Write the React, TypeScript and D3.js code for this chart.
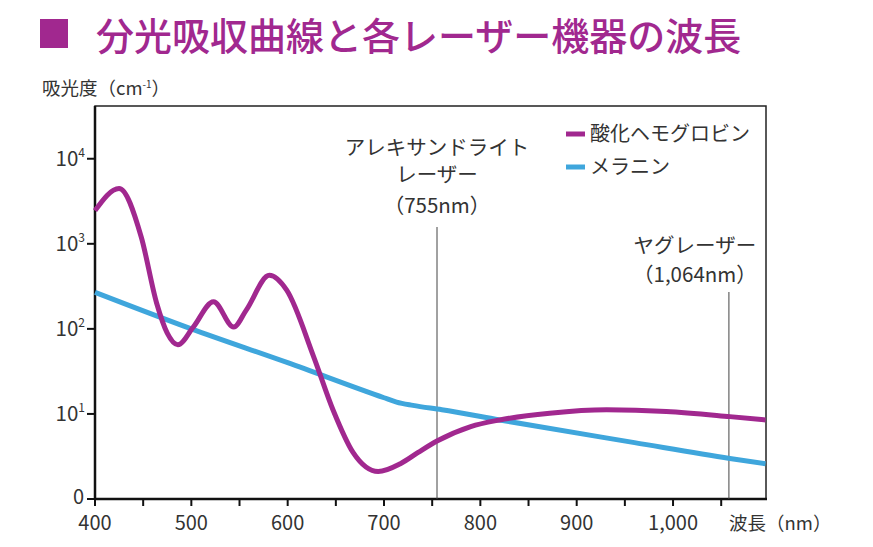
import React from "react";
import * as d3 from "d3";

const hbWavelengths = [400, 425, 448, 464, 475, 486, 502, 523, 544, 557, 581, 599, 627, 647, 668, 694, 717, 735, 755, 790, 820, 872, 931, 993, 1059, 1096];
const hbValues = [2455, 4467, 1202, 200, 89, 65, 105, 209, 105, 166, 427, 285, 47, 11.2, 3.5, 2.1, 2.6, 3.5, 4.8, 7.1, 8.5, 10.2, 11.2, 10.7, 9.3, 8.5];

const melWavelengths = [400, 500, 600, 700, 713, 730, 760, 820, 960, 1059, 1096];
const melValues = [269, 100, 40, 15.5, 13.8, 12.6, 11.2, 8.5, 4.6, 3.0, 2.6];

const xTicks = [400, 450, 500, 550, 600, 650, 700, 750, 800, 850, 900, 950, 1000, 1050];
const xTickLabels = [
  { v: 400, t: "400" },
  { v: 500, t: "500" },
  { v: 600, t: "600" },
  { v: 700, t: "700" },
  { v: 800, t: "800" },
  { v: 900, t: "900" },
  { v: 1000, t: "1,000" },
];
const yTicks = [1, 10, 100, 1000, 10000];
const yTickExp = ["0", "1", "2", "3", "4"];

const lasers = [
  { wl: 755, lines: ["アレキサンドライト", "レーザー", "（755nm）"], lineTop: 227, textY: [155, 182, 213] },
  { wl: 1058, lines: ["ヤグレーザー", "（1,064nm）"], lineTop: 292, textY: [253, 282] },
];

const legendItems = [
  { name: "酸化ヘモグロビン", color: "#a1288f" },
  { name: "メラニン", color: "#3fa6dc" },
];

const PURPLE = "#a1288f";
const BLUE = "#3fa6dc";
const TEXT = "#333";
const FONT = "'Noto Sans CJK JP', 'Noto Sans', sans-serif";

export default function App() {
  const left = 95, right = 766, top = 106, bottom = 499;
  const x = d3.scaleLinear().domain([400, 1096.5]).range([left, right]);
  const y = d3.scaleLog().domain([1, Math.pow(10, 4.62)]).range([bottom, top]);

  const line = d3
    .line<[number, number]>()
    .x((d) => x(d[0]))
    .y((d) => y(d[1]))
    .curve(d3.curveMonotoneX);

  const hb = hbWavelengths.map((w, i) => [w, hbValues[i]] as [number, number]);
  const mel = melWavelengths.map((w, i) => [w, melValues[i]] as [number, number]);

  const annoOffset = (l: typeof lasers[number]) => (l.wl === 755 ? 0 : -34);

  return (
    <svg width={873} height={547} style={{ position: "absolute", left: 0, top: 0, background: "#fff" }} fontFamily={FONT}>
      <rect x={0} y={0} width={873} height={547} fill="#fff" />
      {/* Title */}
      <rect x={40} y={19} width={28} height={29} fill={PURPLE} />
      <text x={96} y={50} fontSize={38} fill={PURPLE} fontWeight={500}>
        分光吸収曲線と各レーザー機器の波長
      </text>
      {/* y axis title */}
      <text x={42} y={95} fontSize={18.5} fill={TEXT}>
        吸光度（cm<tspan dy={-7} fontSize={10}>-1</tspan><tspan dy={7}>）</tspan>
      </text>

      {/* frame */}
      <rect x={left} y={top} width={right - left} height={bottom - top} fill="none" stroke="#222" strokeWidth={1.5} />
      <line x1={left} x2={left} y1={top} y2={bottom + 1} stroke="#111" strokeWidth={2.5} />
      <line x1={left - 1} x2={right + 1} y1={bottom} y2={bottom} stroke="#111" strokeWidth={2.5} />

      {/* laser lines */}
      {lasers.map((l, i) => (
        <g key={i}>
          <line x1={x(l.wl)} x2={x(l.wl)} y1={l.lineTop} y2={bottom} stroke="#444" strokeWidth={1} />
          {l.lines.map((t, j) => (
            <text key={j} x={x(l.wl) + annoOffset(l)} y={l.textY[j]} fontSize={20.5} textAnchor="middle" fill={TEXT}>
              {t}
            </text>
          ))}
        </g>
      ))}

      {/* curves */}
      <path d={line(mel) || ""} fill="none" stroke={BLUE} strokeWidth={5} strokeLinejoin="round" />
      <path d={line(hb) || ""} fill="none" stroke={PURPLE} strokeWidth={5} strokeLinejoin="round" />

      {/* x ticks */}
      {xTicks.map((v) => (
        <line key={v} x1={x(v)} x2={x(v)} y1={bottom} y2={bottom + 7} stroke="#111" strokeWidth={2} />
      ))}
      {xTickLabels.map((d) => (
        <text key={d.v} x={x(d.v)} y={530} fontSize={20} textAnchor="middle" fill={TEXT}>
          {d.t}
        </text>
      ))}
      <text x={729} y={530} fontSize={18.5} fill={TEXT}>
        波長（nm）
      </text>

      {/* y ticks */}
      {yTicks.map((v, i) => (
        <g key={v}>
          <line x1={left - 8} x2={left} y1={y(v)} y2={y(v)} stroke="#111" strokeWidth={2} />
          {i === 0 ? (
            <text x={84} y={y(v) + 5} fontSize={20} textAnchor="end" fill={TEXT}>
              0
            </text>
          ) : (
            <text x={85} y={y(v) + 7} fontSize={20.5} textAnchor="end" fill={TEXT}>
              10<tspan dy={-9} fontSize={12}>{yTickExp[i]}</tspan>
            </text>
          )}
        </g>
      ))}

      {/* legend */}
      {legendItems.map((d, i) => (
        <g key={d.name}>
          <line x1={566} x2={585} y1={134 + i * 33} y2={134 + i * 33} stroke={d.color} strokeWidth={5} />
          <text x={590} y={141 + i * 33} fontSize={20} fill={TEXT}>
            {d.name}
          </text>
        </g>
      ))}
    </svg>
  );
}
